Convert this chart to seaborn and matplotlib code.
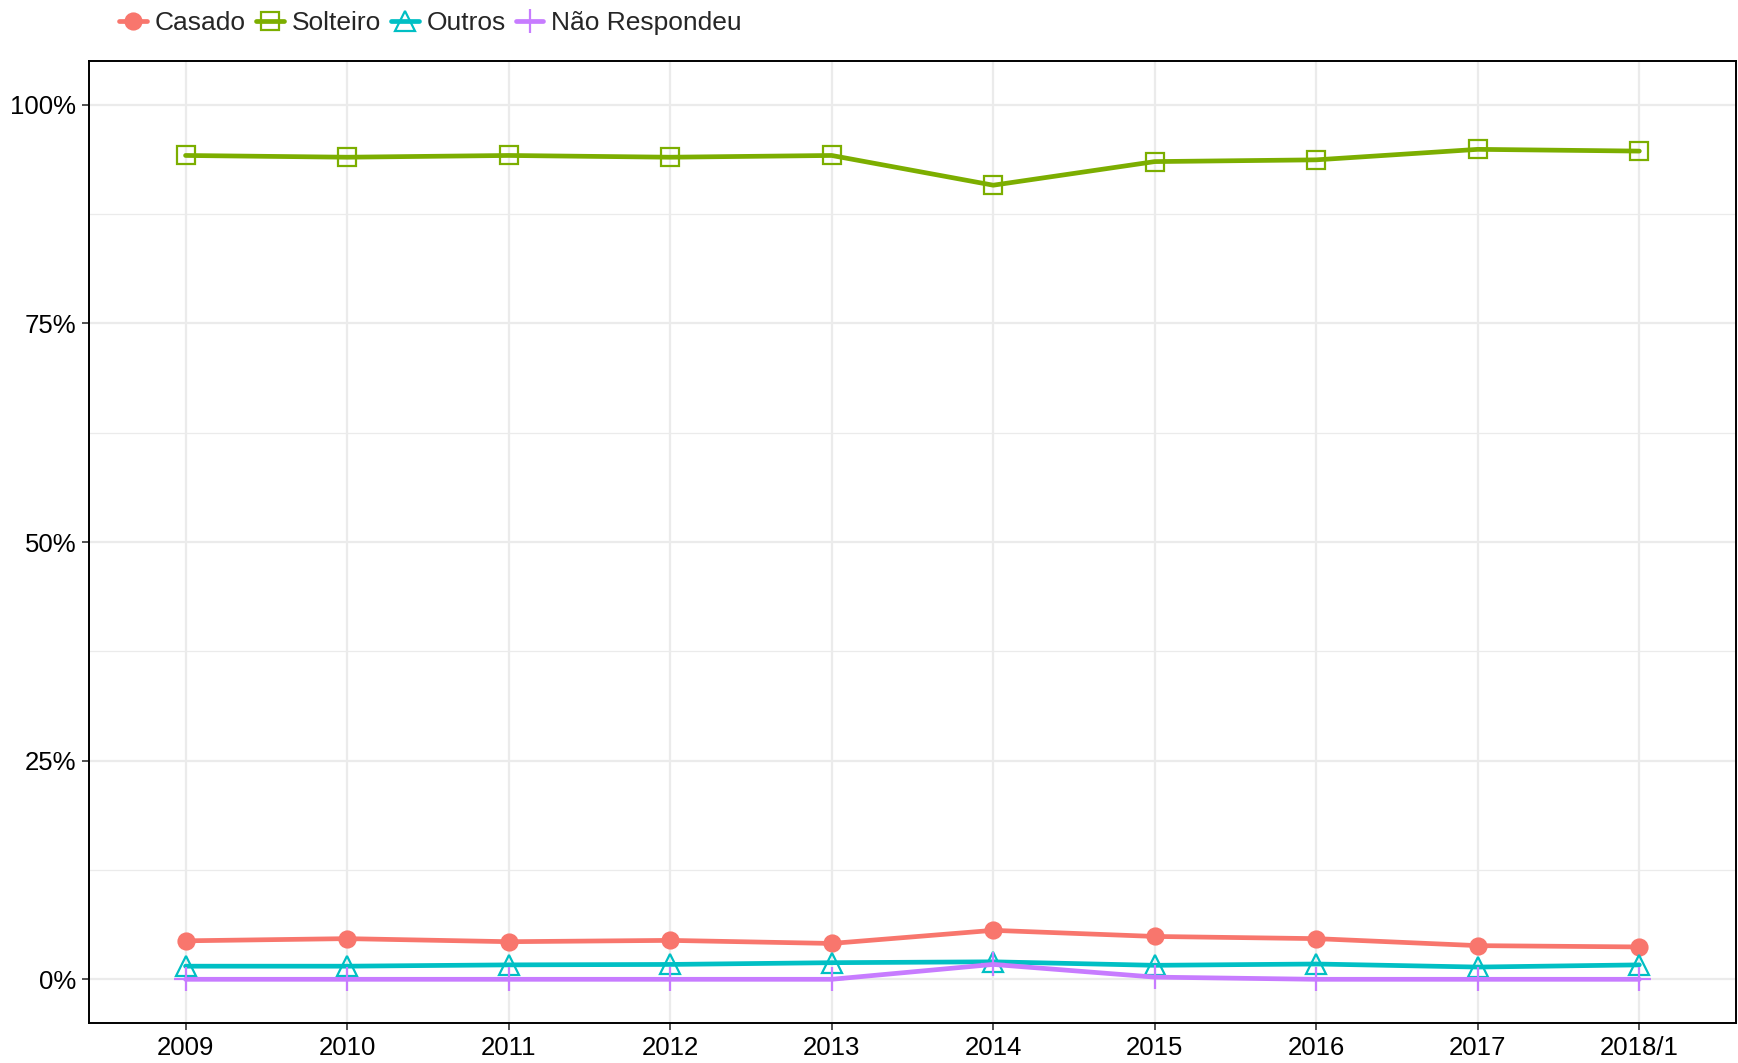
import numpy as np
import pandas as pd
import matplotlib.pyplot as plt
import seaborn as sns
from matplotlib.ticker import FixedLocator, PercentFormatter

YEARS = ['2009', '2010', '2011', '2012', '2013', '2014', '2015', '2016', '2017', '2018/1']
SERIES = ['Casado', 'Solteiro', 'Outros', 'Não Respondeu']

casado = [4.4, 4.65, 4.3, 4.45, 4.1, 5.6, 4.9, 4.65, 3.85, 3.7]
solteiro = [94.2, 94.0, 94.2, 94.0, 94.2, 90.8, 93.5, 93.7, 94.9, 94.7]
outros = [1.5, 1.5, 1.65, 1.7, 1.9, 2.0, 1.6, 1.75, 1.4, 1.65]
nao_resp = [0.0, 0.0, 0.0, 0.0, 0.0, 1.7, 0.25, 0.0, 0.0, 0.0]

COLORS = ['#F8766D', '#7CAE00', '#00BFC4', '#C77CFF']
MARKERS = ['o', 's', '^', '+']
FILLED = [True, False, False, True]
MSIZE = [11.5, 12.5, 14, 17]

df = pd.DataFrame({
    'ano': YEARS * 4,
    'estado': np.repeat(SERIES, len(YEARS)),
    'pct': (np.array(casado + solteiro + outros + nao_resp)) / 100,
})

sns.set_style('white')
plt.rcParams['font.family'] = ['Liberation Sans', 'DejaVu Sans']

fig = plt.figure(figsize=(17.38, 10.63), dpi=100)
ax = fig.add_axes([0.051, 0.0376, 0.948, 0.905])

for name, col, mk, filled, ms in zip(SERIES, COLORS, MARKERS, FILLED, MSIZE):
    sub = df[df['estado'] == name]
    sns.lineplot(data=sub, x='ano', y='pct', ax=ax, color=col, lw=3.4,
                 marker=mk, markersize=ms, markeredgewidth=1.6,
                 markerfacecolor=col if filled else 'none',
                 markeredgecolor=col, label=name, sort=False, zorder=3)

ax.set_xlim(-0.6, len(YEARS) - 0.4)
ax.set_ylim(-0.05, 1.05)
ax.yaxis.set_major_locator(FixedLocator([0, 0.25, 0.5, 0.75, 1.0]))
ax.yaxis.set_minor_locator(FixedLocator([0.125, 0.375, 0.625, 0.875]))
ax.yaxis.set_major_formatter(PercentFormatter(1.0, decimals=0))
ax.grid(True, which='major', color='#EBEBEB', lw=1.6, zorder=0)
ax.grid(True, which='minor', axis='y', color='#EBEBEB', lw=0.9, zorder=0)
ax.set_axisbelow(True)
for s in ax.spines.values():
    s.set_color('black')
    s.set_linewidth(1.4)
ax.tick_params(axis='both', which='major', labelsize=18.5, colors='#333333',
               labelcolor='black', length=5, width=1.2, direction='out',
               bottom=True, left=True, pad=4)
ax.tick_params(axis='y', which='minor', length=0)
ax.set_xlabel('')
ax.set_ylabel('')

handles, labels = ax.get_legend_handles_labels()
ax.get_legend().remove()
fig.legend(handles, labels, loc='upper left', bbox_to_anchor=(0.058, 1.007),
           ncol=4, frameon=False, fontsize=19, handlelength=1.05,
           handletextpad=0.3, columnspacing=0.38, borderaxespad=0.3)

fig.savefig('out.png', dpi=100)
